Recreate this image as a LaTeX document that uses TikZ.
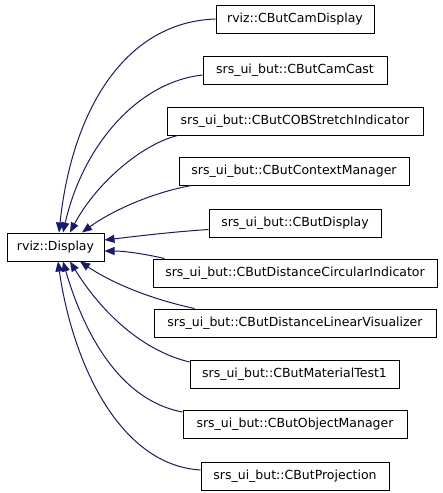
\documentclass[tikz,border=0pt]{standalone}
\usepackage{fontspec}
\setmainfont{DejaVu Sans}
\usetikzlibrary{arrows.meta}
\definecolor{edgeblue}{HTML}{191970}
\begin{document}
\begin{tikzpicture}[x=1pt,y=-1pt,
  cls/.style={draw=black, line width=1pt, minimum height=28pt, inner sep=0pt, font=\fontsize{12.5}{14}\selectfont},
  inh/.style={draw=edgeblue, line width=1pt, -{Triangle[length=10pt,width=8pt]}, fill=none},
]
\useasboundingbox (0,0) rectangle (443,493);
\node[cls, minimum width=97pt]  (D)   at (55.5,247) {rviz::Display};
\node[cls, minimum width=158pt] (c1)  at (295,19)   {rviz::CButCamDisplay};
\node[cls, minimum width=184pt] (c2)  at (295,70)   {srs\_ui\_but::CButCamCast};
\node[cls, minimum width=256pt] (c3)  at (295,121)  {srs\_ui\_but::CButCOBStretchIndicator};
\node[cls, minimum width=230pt] (c4)  at (294,171)  {srs\_ui\_but::CButContextManager};
\node[cls, minimum width=172pt] (c5)  at (295,223.5){srs\_ui\_but::CButDisplay};
\node[cls, minimum width=284pt] (c6)  at (295,273)  {srs\_ui\_but::CButDistanceCircularIndicator};
\node[cls, minimum width=282pt] (c7)  at (295,323)  {srs\_ui\_but::CButDistanceLinearVisualizer};
\node[cls, minimum width=209pt] (c8)  at (294.5,374){srs\_ui\_but::CButMaterialTest1};
\node[cls, minimum width=224pt] (c9)  at (295,424)  {srs\_ui\_but::CButObjectManager};
\node[cls, minimum width=188pt] (c10) at (295,476)  {srs\_ui\_but::CButProjection};

\draw[inh] (c1.west) .. controls (125,22) and (72,110) .. ([xshift=3.5pt]D.north);
\draw[inh] ([yshift=-5pt]c2.west) .. controls (138,82) and (83,145) .. ([xshift=7.5pt]D.north);
\draw[inh] ([xshift=11pt]c3.south west) .. controls (140,145) and (95,185) .. ([xshift=14.5pt]D.north);
\draw[inh] ([xshift=13pt]c4.south west) .. controls (150,193) and (110,212) .. ([xshift=26.5pt]D.north);
\draw[inh] ([yshift=-6pt]c5.west) .. controls (170,232) and (130,237) .. ([yshift=7pt]D.east);
\draw[inh] ([xshift=12pt]c6.north west) .. controls (145,254) and (125,251) .. ([yshift=-4pt]D.east);
\draw[inh] ([xshift=41pt]c7.north west) .. controls (155,300) and (115,285) .. ([xshift=24.5pt]D.south);
\draw[inh] ([yshift=12pt]c8.west) .. controls (140,350) and (100,310) .. ([xshift=14.5pt]D.south);
\draw[inh] ([yshift=12pt]c9.west) .. controls (118,400) and (83,330) .. ([xshift=7.5pt]D.south);
\draw[inh] ([yshift=6pt]c10.west) .. controls (118,465) and (72,360) .. ([xshift=2.5pt]D.south);
\end{tikzpicture}
\end{document}
